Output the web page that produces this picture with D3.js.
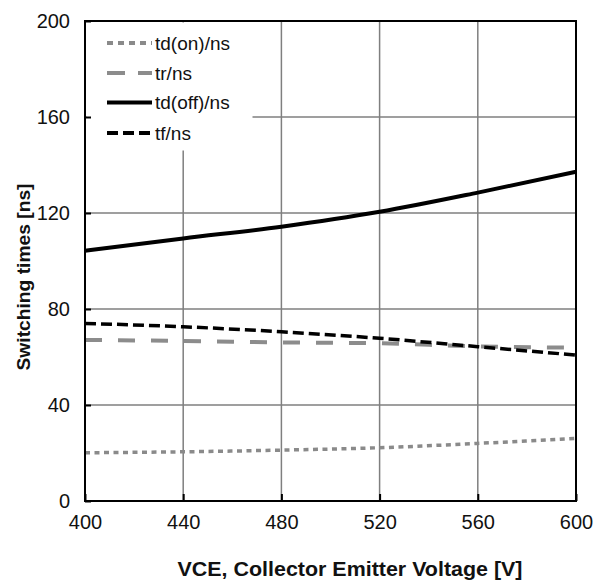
<!DOCTYPE html>
<html><head><meta charset="utf-8">
<script src="https://cdn.jsdelivr.net/npm/d3@7"></script>
<style>body{margin:0;background:#fff}svg{display:block;font-family:"Liberation Sans",Arial,sans-serif}</style>
</head><body><svg id="c" width="597" height="584"></svg>
<script>
const voltages = [400, 440, 480, 520, 560, 600];
const tdOn  = [20.1, 20.5, 21.2, 22.2, 24.0, 26.1];
const tr    = [67.1, 66.7, 66.1, 65.7, 64.4, 63.9];
const tdOff = [104.3, 109.4, 114.3, 120.5, 128.5, 137.2];
const tf    = [74.0, 72.6, 70.5, 67.8, 64.3, 60.8];
const xTicks = [400, 440, 480, 520, 560, 600];
const yTicks = [0, 40, 80, 120, 160, 200];
const seriesNames = ["td(on)/ns", "tr/ns", "td(off)/ns", "tf/ns"];

const series = [
  {name: seriesNames[0], values: tdOn,  color: "#8a8a8a", width: 3.5, dash: "5,4.5", legDash: "6,5"},
  {name: seriesNames[1], values: tr,    color: "#8c8c8c", width: 4,   dash: "17,16", legDash: "18,13"},
  {name: seriesNames[2], values: tdOff, color: "#000",    width: 4,   dash: null,    legDash: null},
  {name: seriesNames[3], values: tf,    color: "#000",    width: 3.5, dash: "11,5",  legDash: "11,5"}
];

const svg = d3.select("#c");
const L = 85, R = 576, T = 21, B = 501;
const x = d3.scaleLinear().domain([400, 600]).range([L, R]);
const y = d3.scaleLinear().domain([0, 200]).range([B, T]);

// grid
const g = svg.append("g");
g.selectAll(".vg").data(xTicks.slice(1, -1)).join("line")
  .attr("x1", d => x(d)).attr("x2", d => x(d)).attr("y1", T).attr("y2", B)
  .attr("stroke", "#7f7f7f").attr("stroke-width", 1.5);
g.selectAll(".hg").data(yTicks.slice(1, -1)).join("line")
  .attr("x1", L).attr("x2", R).attr("y1", d => y(d)).attr("y2", d => y(d))
  .attr("stroke", "#7f7f7f").attr("stroke-width", 1.5);

// lines
const line = d3.line().x((d, i) => x(voltages[i])).y(d => y(d)).curve(d3.curveMonotoneX);
series.forEach(s => {
  svg.append("path").attr("d", line(s.values)).attr("fill", "none")
    .attr("stroke", s.color).attr("stroke-width", s.width)
    .attr("stroke-dasharray", s.dash);
});

// legend background
svg.append("rect").attr("x", L + 1.5).attr("y", T + 1.5).attr("width", 166).attr("height", 128).attr("fill", "#fff");
const leg = svg.append("g");
const legY = [43, 73, 102.5, 133];
series.forEach((s, i) => {
  const yy = legY[i];
  leg.append("line").attr("x1", 107).attr("x2", 152).attr("y1", yy).attr("y2", yy)
    .attr("stroke", s.color).attr("stroke-width", 4)
    .attr("stroke-dasharray", s.legDash);
  leg.append("text").attr("x", 155).attr("y", yy).attr("dy", "0.35em")
    .attr("font-size", 19).attr("fill", "#111").text(s.name);
});

// axes
const xAxis = svg.append("g").attr("transform", `translate(0,${B})`)
  .call(d3.axisBottom(x).tickValues(xTicks).tickSize(-7).tickPadding(14).tickFormat(d3.format("d")));
const yAxis = svg.append("g").attr("transform", `translate(${L},0)`)
  .call(d3.axisLeft(y).tickValues(yTicks).tickSize(-6).tickPadding(15).tickFormat(d3.format("d")));
[xAxis, yAxis].forEach(a => {
  a.select(".domain").remove();
  a.selectAll(".tick line").attr("stroke", "#000").attr("stroke-width", 2);
  a.selectAll("text").attr("font-size", 20).attr("fill", "#111").attr("font-family", "\"Liberation Sans\",Arial,sans-serif");
});
xAxis.selectAll("text").attr("dy", "0.71em");

// frame
svg.append("rect").attr("x", L).attr("y", T).attr("width", R - L).attr("height", B - T)
  .attr("fill", "none").attr("stroke", "#000").attr("stroke-width", 2);

// titles
svg.append("text").attr("x", 350).attr("y", 576).attr("text-anchor", "middle")
  .attr("font-size", 20).attr("font-weight", "bold").attr("fill", "#111")
  .attr("textLength", 345).attr("lengthAdjust", "spacingAndGlyphs")
  .text("VCE, Collector Emitter Voltage [V]");
svg.append("text").attr("transform", "translate(30,277) rotate(-90)").attr("text-anchor", "middle")
  .attr("font-size", 19).attr("font-weight", "bold").attr("fill", "#111")
  .attr("textLength", 187).attr("lengthAdjust", "spacingAndGlyphs")
  .text("Switching times [ns]");
</script></body></html>
